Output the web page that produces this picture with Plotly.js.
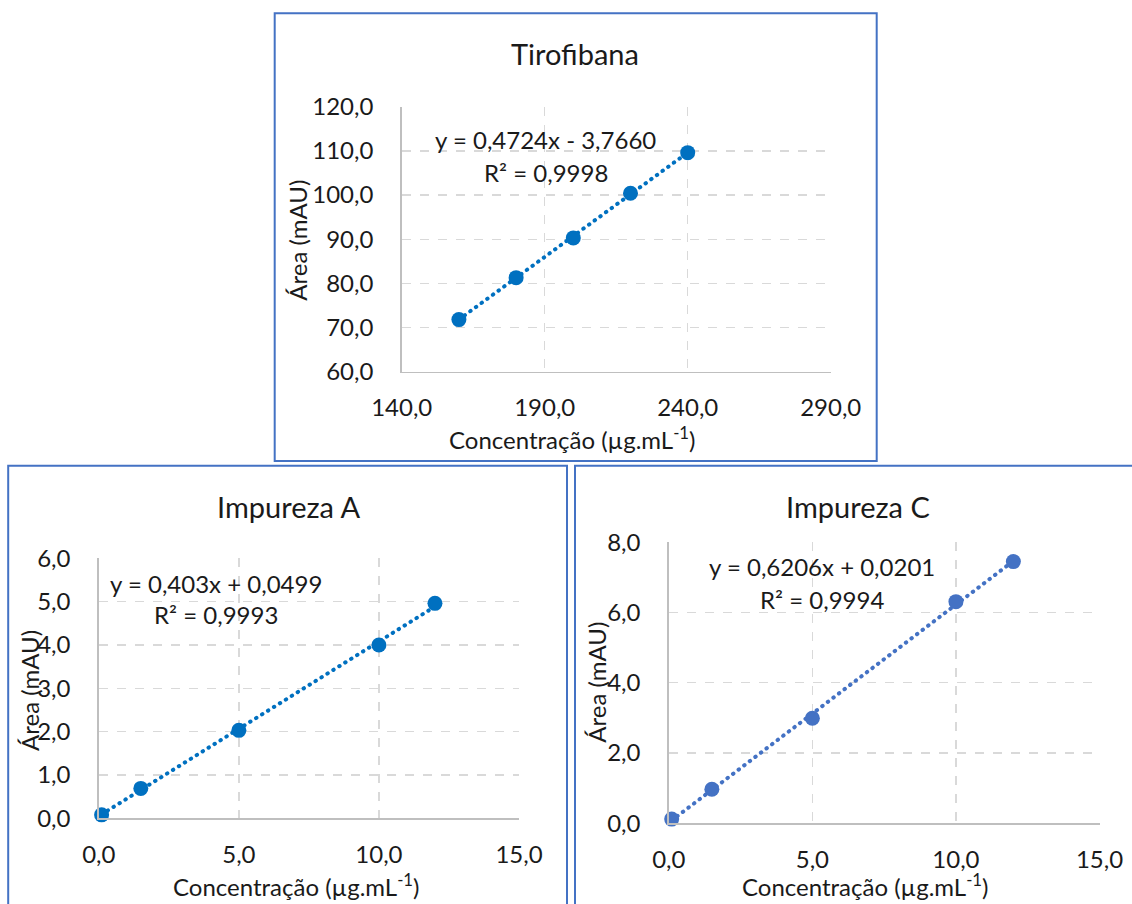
<!DOCTYPE html>
<html>
<head>
<meta charset="utf-8">
<script src="https://cdn.plot.ly/plotly-3.0.1.min.js"></script>
<style>
html,body{margin:0;padding:0;background:#fff;}
#chart{width:1132px;height:904px;}
.scatterlayer .js-line{stroke-linecap:round;}
</style>
</head>
<body>
<div id="chart"></div>
<script>
// ---- data ----
const panelTitles = ["Tirofibana", "Impureza A", "Impureza C"];
const tiroX = [160, 180, 200, 220, 240];
const tiroY = [71.8, 81.3, 90.3, 100.4, 109.6];
const impAX = [0.1, 1.5, 5, 10, 12];
const impAY = [0.08, 0.69, 2.03, 4.0, 4.96];
const impCX = [0.1, 1.5, 5, 10, 12];
const impCY = [0.12, 0.97, 2.99, 6.31, 7.45];
const slopes = [0.4724, 0.403, 0.6206];
const intercepts = [-3.766, 0.0499, 0.0201];
const eqTexts = ["y = 0,4724x - 3,7660", "y = 0,403x + 0,0499", "y = 0,6206x + 0,0201"];
const r2Texts = ["R² = 0,9998", "R² = 0,9993", "R² = 0,9994"];
const xRanges = [[140, 290], [0, 15], [0, 15]];
const yRanges = [[60, 120], [0, 6], [0, 8]];
const xDticks = [50, 5, 5];
const yDticks = [10, 1, 2];
const yTitle = "Área (mAU)";
const xTitle = "Concentração (µg.mL<sup>-1</sup>)";

// ---- layout helpers ----
const W = 1132, H = 904;
const px = v => v / W;
const py = v => 1 - v / H;
const FONT = 'Lato, "Open Sans", sans-serif';
const TXT = '#1a1a1a';
const colors = ['#0070C0', '#0070C0', '#4472C4'];

const xs = [tiroX, impAX, impCX];
const ys = [tiroY, impAY, impCY];

// plot areas in pixels [left,right,top,bottom]
const areas = [
  [401.7, 830.7, 106.7, 371.7],
  [98.8, 519, 558.3, 818.3],
  [668.8, 1099.5, 542.3, 823.3]
];

const traces = [];
const layout = {
  width: W, height: H,
  margin: {l: 0, r: 0, t: 0, b: 0},
  paper_bgcolor: '#fff', plot_bgcolor: '#fff',
  showlegend: false,
  separators: ',.',
  font: {family: FONT, color: TXT, size: 24},
  annotations: [], shapes: []
};

for (let i = 0; i < 3; i++) {
  const sx = i === 0 ? '' : String(i + 1);
  const xa = 'x' + sx, ya = 'y' + sx;
  const xmin = Math.min(...xs[i]), xmax = Math.max(...xs[i]);
  traces.push({
    x: [xmin, xmax],
    y: [slopes[i] * xmin + intercepts[i], slopes[i] * xmax + intercepts[i]],
    xaxis: xa, yaxis: ya, mode: 'lines', hoverinfo: 'skip',
    line: {color: colors[i], width: 4, dash: '0.5px,6.5px'},
    cliponaxis: false
  });
  traces.push({
    x: xs[i], y: ys[i], xaxis: xa, yaxis: ya, mode: 'markers',
    marker: {color: colors[i], size: 15},
    cliponaxis: false
  });
  const a = areas[i];
  const axCommon = {
    showline: true, linecolor: '#bfbfbf', linewidth: 1.5,
    showgrid: true, gridcolor: '#d9d9d9', gridwidth: 1.3, griddash: 'dash',
    zeroline: false, ticks: '', tickformat: '.1f',
    tickfont: {family: FONT, size: 24, color: TXT}, fixedrange: true
  };
  layout['xaxis' + sx] = Object.assign({}, axCommon, {
    domain: [px(a[0]), px(a[1])], anchor: ya,
    range: xRanges[i], tick0: xRanges[i][0], dtick: xDticks[i],
    ticklabelstandoff: 14
  });
  layout['yaxis' + sx] = Object.assign({}, axCommon, {
    domain: [py(a[3]), py(a[2])], anchor: xa,
    range: yRanges[i], tick0: yRanges[i][0], dtick: yDticks[i],
    ticklabelstandoff: 22
  });
}

// annotations (titles, equations, axis titles)
const titlePos = [[575.3, 53.3], [288.2, 506.7], [858.3, 506.7]];
const eqPos = [[545.5, 139.3], [216, 583.3], [822, 566.7]];
const r2Pos = [[545.5, 172.3], [216, 614.3], [822, 599]];
const yTitlePos = [[297.7, 240], [28.9, 690], [595.7, 682]];
const xTitlePos = [[572.5, 438.3], [296, 885], [865, 885]];

function ann(text, p, size, angle) {
  return {
    text: text, xref: 'paper', yref: 'paper', x: px(p[0]), y: py(p[1]),
    xanchor: 'center', yanchor: 'middle', showarrow: false,
    textangle: angle || 0, font: {family: FONT, size: size, color: TXT}
  };
}
for (let i = 0; i < 3; i++) {
  layout.annotations.push(ann(panelTitles[i], titlePos[i], 29));
  layout.annotations.push(ann(eqTexts[i], eqPos[i], 24));
  layout.annotations.push(ann(r2Texts[i], r2Pos[i], 24));
  layout.annotations.push(ann(yTitle, yTitlePos[i], 24, -90));
  layout.annotations.push(ann(xTitle, xTitlePos[i], 24));
}

// panel borders
const borders = [[274.7, 876.7, 13.3, 461], [8.2, 567, 465.7, 912], [575, 1140, 465.7, 912]];
borders.forEach(b => layout.shapes.push({
  type: 'rect', xref: 'paper', yref: 'paper',
  x0: px(b[0]), x1: px(b[1]), y0: py(b[3]), y1: py(b[2]),
  line: {color: '#4472C4', width: 2}, fillcolor: 'rgba(0,0,0,0)', layer: 'above'
}));

Plotly.newPlot('chart', traces, layout, {staticPlot: true, displayModeBar: false});
</script>
</body>
</html>
